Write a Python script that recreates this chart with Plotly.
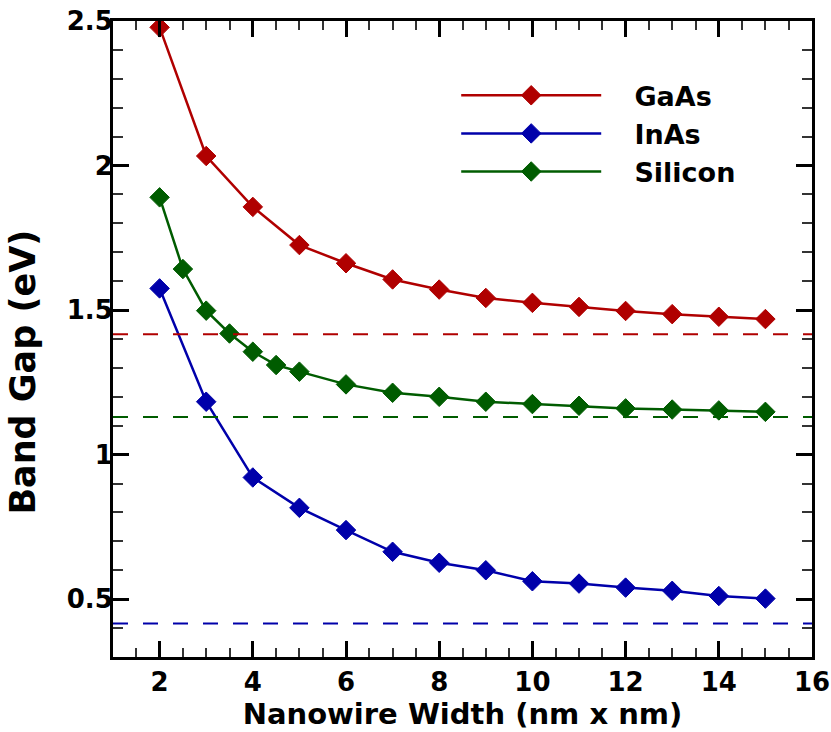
import plotly.graph_objects as go

# Nanowire widths (nm)
width_main = [2, 3, 4, 5, 6, 7, 8, 9, 10, 11, 12, 13, 14, 15]
width_si = [2, 2.5, 3, 3.5, 4, 4.5, 5, 6, 7, 8, 9, 10, 11, 12, 13, 14, 15]

# Band gaps (eV)
gap_gaas = [2.478, 2.033, 1.857, 1.725, 1.662, 1.606, 1.571, 1.542, 1.525, 1.511, 1.497, 1.486, 1.477, 1.469]
gap_inas = [1.575, 1.183, 0.921, 0.816, 0.739, 0.664, 0.626, 0.600, 0.562, 0.554, 0.540, 0.529, 0.511, 0.502]
gap_si = [1.890, 1.642, 1.498, 1.419, 1.356, 1.310, 1.287, 1.243, 1.214, 1.200, 1.183, 1.175, 1.169, 1.160, 1.156, 1.153, 1.148]

# Bulk band gaps (eV)
bulk_gaas = 1.416
bulk_si = 1.130
bulk_inas = 0.416

x_range = [1, 16]
y_tickvals = [0.5, 1, 1.5, 2, 2.5]
y_ticktext = ["0.5", "1", "1.5", "2", "2.5"]
x_tickvals = [2, 4, 6, 8, 10, 12, 14, 16]

RED = "#b00000"
BLUE = "#0000aa"
GREEN = "#005c00"
FONT = "DejaVu Sans, Liberation Sans, Arial, sans-serif"
GAP = "\u00a0\u00a0\u00a0"  # spacing between legend symbol and label

fig = go.Figure()

series = [
    ("GaAs", width_main, gap_gaas, RED),
    ("InAs", width_main, gap_inas, BLUE),
    ("Silicon", width_si, gap_si, GREEN),
]
for name, xs, ys, color in series:
    fig.add_trace(go.Scatter(
        x=xs, y=ys, name=GAP + name, mode="lines+markers",
        line=dict(color=color, width=2.5),
        marker=dict(symbol="diamond", size=15, color=color,
                    line=dict(color=color, width=1)),
    ))

# Bulk reference levels as dashed lines across the full width
for value, color in [(bulk_gaas, RED), (bulk_si, GREEN), (bulk_inas, BLUE)]:
    fig.add_trace(go.Scatter(
        x=x_range, y=[value, value], mode="lines", showlegend=False,
        line=dict(color=color, width=2, dash="15px,15px"),
        hoverinfo="skip",
    ))

axis_common = dict(
    showline=True, linewidth=3, linecolor="black", mirror="ticks",
    ticks="inside", ticklen=16, tickwidth=3, tickcolor="black",
    showgrid=False, zeroline=False, automargin=False,
    tickfont=dict(family=FONT, size=26, color="black", weight="bold"),
)

fig.update_xaxes(
    range=x_range, tickvals=x_tickvals,
    minor=dict(dtick=0.5, tick0=0, ticks="inside", ticklen=9, tickwidth=1.5,
               tickcolor="#333333", showgrid=False),
    ticklabelstandoff=0,
    title=dict(text="Nanowire Width (nm x nm)", standoff=0,
               font=dict(family=FONT, size=29, color="black", weight="bold")),
    **axis_common,
)
fig.update_yaxes(
    range=[0.3, 2.5], tickvals=y_tickvals, ticktext=y_ticktext,
    minor=dict(dtick=0.1, tick0=0, ticks="inside", ticklen=10, tickwidth=1.5,
               tickcolor="#333333", showgrid=False),
    ticklabelstandoff=-8,
    **axis_common,
)

fig.add_annotation(
    text="Band Gap (eV)", textangle=-90,
    xref="paper", yref="paper", x=-0.128, y=0.448,
    xanchor="center", yanchor="middle", showarrow=False,
    font=dict(family=FONT, size=35, color="black", weight="bold"),
)

fig.update_layout(
    width=831, height=732,
    margin=dict(l=113, r=19, t=21, b=75, autoexpand=False),
    paper_bgcolor="white", plot_bgcolor="white",
    showlegend=True,
    legend=dict(
        x=0.491, y=0.921, xanchor="left", yanchor="top",
        bgcolor="rgba(0,0,0,0)", itemwidth=140,
        font=dict(family=FONT, size=27, color="black", weight="bold"),
    ),
)

fig.write_html("out.html")
